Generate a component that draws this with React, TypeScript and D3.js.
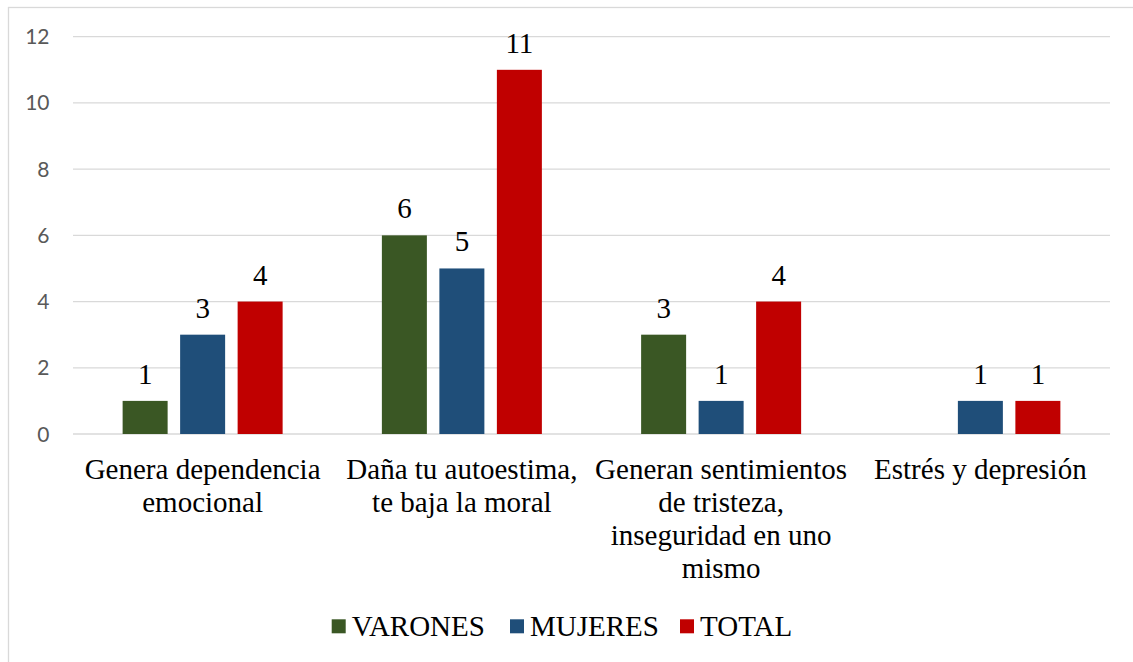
import React from "react";
import * as d3 from "d3";

const categories = [
  "Genera dependencia emocional",
  "Daña tu autoestima, te baja la moral",
  "Generan sentimientos de tristeza, inseguridad en uno mismo",
  "Estrés y depresión",
];
const categoryLines = [
  ["Genera dependencia", "emocional"],
  ["Daña tu autoestima,", "te baja la moral"],
  ["Generan sentimientos", "de tristeza,", "inseguridad en uno", "mismo"],
  ["Estrés y depresión"],
];
const seriesNames = ["VARONES", "MUJERES", "TOTAL"];
const varones = [1, 6, 3, null];
const mujeres = [3, 5, 1, 1];
const total = [4, 11, 4, 1];
const yTicks = [0, 2, 4, 6, 8, 10, 12];
const colors = ["#3a5724", "#1f4e79", "#c00000"];

const W = 1133;
const H = 662;
const plotLeft = 73;
const plotRight = 1110;
const yTop = 36.7;
const yBottom = 434;
const fs = 29;

export default function App() {
  const series = [varones, mujeres, total];
  const x0 = d3.scaleBand<string>().domain(categories).range([plotLeft, plotRight]);
  const groupW = 160;
  const x1 = d3
    .scaleBand<string>()
    .domain(seriesNames)
    .range([0, groupW])
    .paddingInner(12.5 / 57.5)
    .paddingOuter(0);
  const y = d3.scaleLinear().domain([0, 12]).range([yBottom, yTop]);
  const legendX = [331.7, 510, 680];

  return (
    <svg
      width={W}
      height={H}
      fontFamily="Liberation Serif"
      style={{ position: "absolute", left: 0, top: 0, background: "#fff" }}
    >
      <style>{`.ser{font-family:"Liberation Serif",serif;} .yl{font-family:Lato,sans-serif;}`}</style>
      <rect x={8.5} y={7.5} width={1300} height={800} fill="#fff" stroke="#d9d9d9" strokeWidth={1.3} />
      {yTicks.map((t) => (
        <g key={t}>
          <line x1={plotLeft} x2={plotRight} y1={y(t)} y2={y(t)} stroke="#d9d9d9" strokeWidth={1.3} />
          <text
            className="yl"
            x={49.5}
            y={y(t)}
            dy="0.36em"
            textAnchor="end"
            fontFamily="Lato"
            fontSize={21}
            fill="#595959"
          >
            {t}
          </text>
        </g>
      ))}
      {categories.map((c, ci) => {
        const gx = (x0(c) as number) + (x0.bandwidth() - groupW) / 2;
        return (
          <g key={c}>
            {series.map((s, si) => {
              const v = s[ci];
              if (v === null || v === undefined) return null;
              const bx = gx + (x1(seriesNames[si]) as number);
              const bw = x1.bandwidth();
              return (
                <g key={si}>
                  <rect x={bx} y={y(v)} width={bw} height={y(0) - y(v)} fill={colors[si]} />
                  <text
                    className="ser"
                    x={bx + bw / 2}
                    y={y(v) - 17}
                    textAnchor="middle"
                    fontFamily="Liberation Serif"
                    fontSize={fs}
                    fill="#000"
                  >
                    {v}
                  </text>
                </g>
              );
            })}
            {categoryLines[ci].map((ln, li) => (
              <text
                className="ser"
                key={li}
                x={(x0(c) as number) + x0.bandwidth() / 2}
                y={479.3 + li * 33}
                textAnchor="middle"
                fontFamily="Liberation Serif"
                fontSize={fs}
                fill="#000"
              >
                {ln}
              </text>
            ))}
          </g>
        );
      })}
      {seriesNames.map((n, i) => (
        <g key={n}>
          <rect x={legendX[i]} y={619.3} width={14} height={14} fill={colors[i]} />
          <text
            className="ser"
            x={legendX[i] + 20}
            y={635.7}
            fontFamily="Liberation Serif"
            fontSize={fs}
            fill="#000"
          >
            {n}
          </text>
        </g>
      ))}
    </svg>
  );
}
